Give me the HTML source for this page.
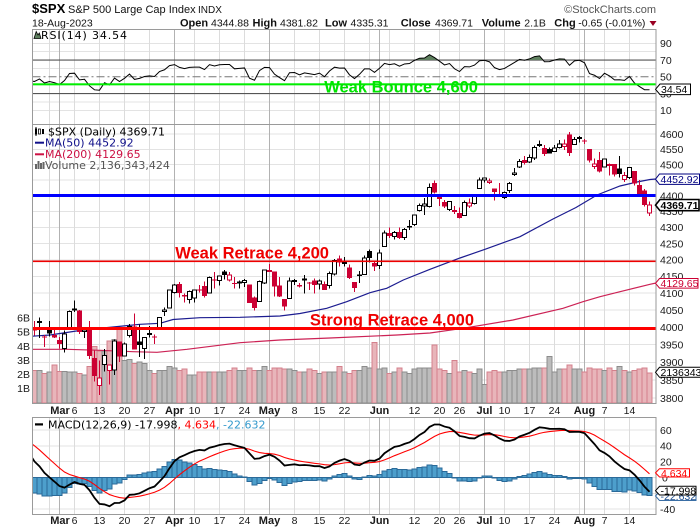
<!DOCTYPE html>
<html><head><meta charset="utf-8"><title>$SPX chart</title>
<style>
html,body{margin:0;padding:0;background:#fff;width:700px;height:530px;overflow:hidden}
svg{display:block}
.ax{font-family:"Liberation Sans",Arial,sans-serif;font-size:10.5px;fill:#1a1a1a}
.mo{font-family:"Liberation Sans",Arial,sans-serif;font-size:11px;font-weight:bold;fill:#1a1a1a}
.lg{font-family:"DejaVu Sans",sans-serif;font-size:11px}
.ann{font-family:"Liberation Sans",Arial,sans-serif;font-size:16.5px;font-weight:bold}
.hd{font-family:"Liberation Sans",Arial,sans-serif}
.tg{font-family:"Liberation Sans",Arial,sans-serif;font-size:10.5px}
</style></head><body>
<svg id="c" width="700" height="530" viewBox="0 0 700 530" xmlns="http://www.w3.org/2000/svg">
<defs>
<clipPath id="cR"><rect x="32.5" y="29.5" width="623.5" height="95"/></clipPath>
<clipPath id="cM"><rect x="32.5" y="124.5" width="623.5" height="279"/></clipPath>
<clipPath id="cD"><rect x="32.5" y="417.5" width="623.5" height="97"/></clipPath>
<clipPath id="cOB"><rect x="32.5" y="29.5" width="623.5" height="30.55"/></clipPath>
</defs>
<rect width="700" height="530" fill="#fff"/>
<g id="grid" shape-rendering="crispEdges"></g>
<g id="spec"></g>
<g id="rsi" clip-path="url(#cR)"></g>
<g id="vol" clip-path="url(#cM)" shape-rendering="crispEdges"></g>
<g id="ma" clip-path="url(#cM)" fill="none"></g>
<g id="cdl" clip-path="url(#cM)" shape-rendering="crispEdges"></g>
<g id="hist" clip-path="url(#cD)" shape-rendering="crispEdges"></g>
<g id="macd" clip-path="url(#cD)" fill="none"></g>

<!-- annotation lines -->
<rect x="32.5" y="83.3" width="623.5" height="2" fill="#00ee00"/>
<rect x="32.5" y="194" width="623.5" height="3" fill="#0000ff"/>
<rect x="32.5" y="260.5" width="623.5" height="1.6" fill="#ee0000"/>
<rect x="32.5" y="327" width="623.5" height="3" fill="#ff0000"/>

<text class="ann" x="478" y="92.7" text-anchor="end" fill="#00e400">Weak Bounce 4,600</text>
<text class="ann" x="329" y="258.3" text-anchor="end" fill="#ee0000">Weak Retrace 4,200</text>
<text class="ann" x="474" y="325.7" text-anchor="end" fill="#ee0000">Strong Retrace 4,000</text>

<!-- panel borders -->
<g fill="none" stroke="#9a9a9a" stroke-width="1" shape-rendering="crispEdges">
<rect x="32.5" y="29.5" width="623.5" height="95"/>
<rect x="32.5" y="124.5" width="623.5" height="279"/>
<rect x="32.5" y="417.5" width="623.5" height="97"/>
</g>

<!-- header -->
<text class="hd" x="32" y="13" font-size="13" font-weight="bold" fill="#000">$SPX</text>
<text class="hd" x="68" y="13" font-size="11" fill="#111">S&amp;P 500 Large Cap Index</text>
<text class="hd" x="198" y="13" font-size="10" fill="#111">INDX</text>
<text class="hd" x="656" y="13" font-size="11" fill="#555" text-anchor="end">©StockCharts.com</text>
<text class="hd" x="32" y="26.7" font-size="10.5" fill="#111">18-Aug-2023</text>
<g class="hd" fill="#111">
<text x="180" y="26.7" font-size="11" font-weight="bold">Open</text>
<text x="211" y="26.7" font-size="10.5">4344.88</text>
<text x="252.5" y="26.7" font-size="11" font-weight="bold">High</text>
<text x="280" y="26.7" font-size="10.5">4381.82</text>
<text x="325" y="26.7" font-size="11" font-weight="bold">Low</text>
<text x="350.5" y="26.7" font-size="10.5">4335.31</text>
<text x="400.7" y="26.7" font-size="11" font-weight="bold">Close</text>
<text x="435" y="26.7" font-size="10.5">4369.71</text>
<text x="481.7" y="26.7" font-size="11" font-weight="bold">Volume</text>
<text x="524.3" y="26.7" font-size="10.5">2.1B</text>
<text x="554.3" y="26.7" font-size="11" font-weight="bold">Chg</text>
<text x="578.3" y="26.7" font-size="10.5">-0.65 (-0.01%)</text>
</g>
<polygon points="649.5,21 656.5,21 653,26" fill="#990022"/>

<!-- RSI legend -->
<polygon points="34,38.5 36.2,31.5 38,35 39.3,33 41,38.5" fill="#5f805f" stroke="#000" stroke-width="0.8"/>
<text class="lg" x="41" y="39" fill="#000" textLength="86">RSI(14) 34.54</text>

<!-- main legend -->
<g>
<rect x="35" y="128.5" width="2" height="6" fill="#000"/><rect x="35.5" y="127" width="1" height="9" fill="#000"/>
<rect x="38.5" y="129" width="2" height="5" fill="#fff" stroke="#000" stroke-width="0.8"/>
<rect x="42" y="129" width="2" height="5" fill="#000"/>
</g>
<text class="lg" x="48" y="135.5" fill="#000">$SPX (Daily) 4369.71</text>
<rect x="35" y="141.7" width="9" height="2" fill="#10108a"/>
<text class="lg" x="45" y="146.5" fill="#10108a">MA(50) 4452.92</text>
<rect x="35" y="153.3" width="9" height="2" fill="#cc1144"/>
<text class="lg" x="45" y="158" fill="#cc1144">MA(200) 4129.65</text>
<g fill="#666"><rect x="35" y="164" width="2" height="5"/><rect x="37.5" y="161" width="2" height="8"/><rect x="40" y="163" width="2" height="6"/><rect x="42.5" y="162" width="2" height="7"/></g>
<text class="lg" x="45" y="169" fill="#555">Volume 2,136,343,424</text>

<!-- MACD legend -->
<rect x="35" y="423.3" width="8" height="2.2" fill="#000"/>
<text class="lg" x="48" y="428.3" fill="#000">MACD(12,26,9) -17.998<tspan fill="#ff0000">, 4.634</tspan><tspan fill="#3399cc">, -22.632</tspan></text>

<!-- RSI axis labels -->
<g class="ax">
<text x="660" y="47.1">90</text>
<text x="660" y="63.9">70</text>
<text x="660" y="80.6">50</text>
<text x="660" y="97.4">30</text>
<text x="660" y="114.1">10</text>
</g>

<!-- main axis labels -->
<g class="ax">
<text x="660" y="138">4600</text>
<text x="660" y="153">4550</text>
<text x="660" y="168.3">4500</text>
<text x="660" y="183.8">4450</text>
<text x="660" y="199.4">4400</text>
<text x="660" y="215.2">4350</text>
<text x="660" y="231.2">4300</text>
<text x="660" y="247.3">4250</text>
<text x="660" y="263.7">4200</text>
<text x="660" y="280.2">4150</text>
<text x="660" y="297">4100</text>
<text x="660" y="313.9">4050</text>
<text x="660" y="331.1">4000</text>
<text x="660" y="348.5">3950</text>
<text x="660" y="366.1">3900</text>
<text x="660" y="383.9">3850</text>
<text x="660" y="402">3800</text>
</g>
<g class="ax" text-anchor="end">
<text x="30" y="321.5">6B</text>
<text x="30" y="335.5">5B</text>
<text x="30" y="349.8">4B</text>
<text x="30" y="363.8">3B</text>
<text x="30" y="377.8">2B</text>
<text x="30" y="392.1">1B</text>
</g>

<!-- MACD axis labels -->
<g class="ax">
<text x="660" y="433.9">60</text>
<text x="660" y="449.7">40</text>
<text x="660" y="465.5">20</text>
<text x="662" y="481.3">0</text>
<text x="660" y="497.1">-20</text>
<text x="660" y="512.9">-40</text>
</g>

<!-- date labels (main) -->
<g text-anchor="middle">
<text class="mo" x="60" y="414">Mar</text><text class="ax" x="74.5" y="414">6</text>
<text class="ax" x="99.5" y="414">13</text><text class="ax" x="124.5" y="414">20</text><text class="ax" x="149.5" y="414">27</text>
<text class="mo" x="174.5" y="414">Apr</text><text class="ax" x="194.5" y="414">10</text><text class="ax" x="219.5" y="414">17</text><text class="ax" x="244.5" y="414">24</text>
<text class="mo" x="269.5" y="414">May</text><text class="ax" x="294.5" y="414">8</text><text class="ax" x="319.5" y="414">15</text><text class="ax" x="344.5" y="414">22</text>
<text class="mo" x="379.5" y="414">Jun</text><text class="ax" x="414.5" y="414">12</text><text class="ax" x="439.5" y="414">20</text><text class="ax" x="459.5" y="414">26</text>
<text class="mo" x="484.5" y="414">Jul</text><text class="ax" x="504.5" y="414">10</text><text class="ax" x="529.5" y="414">17</text><text class="ax" x="554.5" y="414">24</text>
<text class="mo" x="584.5" y="414">Aug</text><text class="ax" x="604.5" y="414">7</text><text class="ax" x="629.5" y="414">14</text>
</g>
<!-- date labels (bottom) -->
<g text-anchor="middle">
<text class="mo" x="60" y="524">Mar</text><text class="ax" x="74.5" y="524">6</text>
<text class="ax" x="99.5" y="524">13</text><text class="ax" x="124.5" y="524">20</text><text class="ax" x="149.5" y="524">27</text>
<text class="mo" x="174.5" y="524">Apr</text><text class="ax" x="194.5" y="524">10</text><text class="ax" x="219.5" y="524">17</text><text class="ax" x="244.5" y="524">24</text>
<text class="mo" x="269.5" y="524">May</text><text class="ax" x="294.5" y="524">8</text><text class="ax" x="319.5" y="524">15</text><text class="ax" x="344.5" y="524">22</text>
<text class="mo" x="379.5" y="524">Jun</text><text class="ax" x="414.5" y="524">12</text><text class="ax" x="439.5" y="524">20</text><text class="ax" x="459.5" y="524">26</text>
<text class="mo" x="484.5" y="524">Jul</text><text class="ax" x="504.5" y="524">10</text><text class="ax" x="529.5" y="524">17</text><text class="ax" x="554.5" y="524">24</text>
<text class="mo" x="584.5" y="524">Aug</text><text class="ax" x="604.5" y="524">7</text><text class="ax" x="629.5" y="524">14</text>
</g>

<!-- tags -->
<polygon points="655.5,89.3 660,84 690.5,84 690.5,94.6 660,94.6" fill="#fff" stroke="#000" stroke-width="1"/>
<text class="tg" x="661" y="93.2" fill="#000">34.54</text>

<polygon points="655.5,179.2 659.5,174 699.5,174 699.5,184.4 659.5,184.4" fill="#fff" stroke="#000080" stroke-width="1"/>
<text class="tg" x="660.5" y="183" fill="#000080">4452.92</text>
<polygon points="655.5,205.1 660,199.5 699,199.5 699,210.7 660,210.7" fill="#fff" stroke="#000" stroke-width="1.6"/>
<text class="tg" x="660.5" y="209" font-weight="bold" fill="#000">4369.71</text>
<polygon points="655.5,283.3 659.5,278.5 698,278.5 698,288.1 659.5,288.1" fill="#fff" stroke="#cc0033" stroke-width="1"/>
<text class="tg" x="660.5" y="287.1" fill="#cc0033">4129.65</text>
<polygon points="655.5,372.3 659.5,367.3 702,367.3 702,377.3 659.5,377.3" fill="#fff" stroke="#000" stroke-width="1"/>
<text class="tg" x="660.5" y="376.1" fill="#000">2136343424</text>

<polygon points="655.5,496 659.5,491.5 696,491.5 696,500.5 659.5,500.5" fill="#fff" stroke="#3a6ea5" stroke-width="1"/>
<text class="tg" x="660.5" y="499.9" fill="#1f4f8f">-22.632</text>
<polygon points="655.5,472.9 659.5,468.7 689.5,468.7 689.5,477 659.5,477" fill="#fff" stroke="#ff0000" stroke-width="1"/>
<text class="tg" x="661" y="476.8" fill="#ff0000">4.634</text>
<polygon points="655.5,490.7 659.5,486.3 696,486.3 696,495 659.5,495" fill="#fff" stroke="#000" stroke-width="1"/>
<text class="tg" x="660.5" y="494.6" fill="#000" font-size="10">-17.998</text>
</svg>
<script>
(function(){
const D=[
[3997.3,4017.8,3976.9,3991.05],[4018.6,4028.3,3969.2,4012.32],[3973.2,3978.3,3943.1,3970.04],
[3992.4,4018.1,3973.6,3982.24],[3977.2,3997.5,3968.98,3970.15],[3963.3,3971.7,3939.1,3951.39],[3938.7,3990.8,3928.2,3981.35],[3998.0,4048.3,3995.2,4045.64],
[4055.2,4078.5,4044.6,4048.42],[4048.3,4050.0,3980.3,3986.37],[3987.6,4000.4,3969.8,3992.01],[3998.7,4017.8,3908.7,3918.32],[3912.8,3934.1,3846.3,3861.59],
[3835.1,3905.1,3808.9,3855.76],[3894.0,3937.3,3873.6,3919.29],[3876.7,3894.3,3838.2,3891.93],[3878.9,3964.5,3864.1,3960.28],[3958.7,3958.9,3901.3,3916.64],
[3917.5,3956.6,3916.9,3951.57],[3975.9,4009.1,3971.2,4002.87],[4002.0,4039.5,3936.2,3936.97],[3959.2,4007.7,3914.5,3948.72],[3939.2,3972.7,3909.2,3970.99],
[3982.9,4003.8,3970.5,3977.53],[3974.1,3979.2,3951.5,3971.27],[3999.5,4030.6,3999.5,4027.81],[4046.7,4057.9,4032.6,4050.83],[4056.2,4110.8,4056.2,4109.31],
[4102.2,4127.7,4098.8,4124.51],[4128.0,4133.1,4086.9,4100.60],[4094.5,4099.7,4072.6,4090.38],[4081.2,4107.3,4069.8,4105.02],
[4085.2,4109.5,4072.6,4109.11],[4110.3,4124.3,4102.6,4108.94],[4121.7,4134.4,4086.9,4091.95],[4100.0,4150.3,4099.4,4146.22],[4140.1,4163.2,4113.2,4137.64],
[4137.2,4151.7,4123.2,4151.32],[4164.3,4169.5,4140.4,4154.87],[4139.3,4162.6,4134.5,4154.52],[4130.5,4148.6,4114.6,4129.79],[4132.1,4138.0,4113.9,4133.52],
[4132.1,4142.4,4117.8,4137.04],[4126.4,4126.4,4071.4,4071.63],[4087.8,4089.7,4049.4,4055.99],[4075.3,4138.2,4075.3,4135.35],[4129.6,4170.1,4127.2,4169.48],
[4166.8,4186.9,4164.1,4167.87],[4164.1,4164.1,4089.7,4119.58],[4122.3,4148.3,4088.9,4090.75],[4082.6,4082.6,4048.3,4061.22],[4084.7,4147.0,4084.7,4136.25],
[4136.1,4142.3,4123.8,4138.12],[4124.3,4130.4,4116.8,4119.17],[4143.7,4154.3,4098.9,4137.64],[4132.2,4132.8,4109.3,4130.62],[4138.5,4143.7,4099.1,4124.08],
[4126.6,4141.3,4110.3,4136.28],[4127.9,4135.5,4109.9,4109.90],[4122.9,4164.7,4113.6,4158.77],[4157.7,4202.2,4153.5,4198.05],[4204.2,4212.9,4180.2,4191.98],
[4190.8,4209.2,4179.7,4192.63],[4176.8,4185.7,4142.5,4145.58],[4132.9,4132.9,4103.98,4115.24],[4155.7,4165.7,4129.7,4151.28],[4156.2,4212.9,4156.2,4205.45],
[4226.7,4231.1,4192.2,4205.52],[4190.7,4195.4,4166.2,4179.83],
[4183.0,4232.4,4171.6,4221.02],[4241.0,4290.7,4241.0,4282.37],
[4282.99,4299.3,4266.8,4273.79],[4271.3,4288.3,4263.1,4283.85],[4285.5,4299.2,4263.96,4267.52],[4268.7,4298.0,4261.1,4293.93],[4304.9,4322.6,4291.7,4298.86],
[4308.3,4340.1,4304.4,4338.93],[4352.6,4375.4,4349.3,4369.01],[4366.3,4391.8,4337.9,4372.59],[4365.3,4439.2,4362.6,4425.84],[4440.4,4448.5,4407.4,4409.59],
[4396.1,4400.1,4367.2,4388.71],[4380.0,4386.2,4360.1,4365.69],[4355.4,4382.3,4351.8,4381.89],[4354.2,4366.6,4341.3,4348.33],
[4344.8,4362.1,4328.1,4328.82],[4337.4,4384.4,4335.0,4378.41],[4367.5,4390.4,4360.2,4376.86],[4374.9,4398.4,4371.97,4396.44],[4422.4,4458.5,4422.4,4450.38],
[4450.5,4456.5,4442.3,4455.59],[4442.0,4454.1,4436.6,4446.82],[4422.6,4422.6,4385.1,4411.59],[4404.5,4440.4,4397.4,4398.95],
[4394.2,4412.6,4389.9,4409.53],[4415.6,4443.6,4408.5,4439.26],[4467.7,4488.3,4463.2,4472.16],[4491.5,4517.4,4489.4,4510.04],[4514.6,4527.8,4499.6,4505.42],
[4508.9,4532.9,4504.9,4522.79],[4521.8,4562.3,4514.6,4554.98],[4563.9,4578.4,4557.5,4565.72],[4554.4,4564.7,4527.6,4534.87],[4550.2,4555.0,4535.8,4536.34],
[4543.4,4563.4,4541.3,4554.64],[4555.2,4580.6,4552.4,4567.46],[4558.96,4582.5,4547.6,4566.75],[4598.3,4607.1,4528.6,4537.41],[4565.8,4590.2,4564.0,4582.23],
[4584.8,4594.2,4573.1,4588.96],
[4578.8,4584.6,4567.5,4576.73],[4550.9,4550.9,4505.8,4513.39],[4494.3,4519.5,4485.5,4501.89],[4513.96,4540.3,4474.6,4478.03],
[4491.6,4519.8,4491.2,4518.44],[4498.0,4503.3,4464.4,4499.38],[4501.6,4502.4,4461.3,4467.71],[4487.2,4527.4,4457.9,4468.83],[4450.7,4476.2,4443.98,4464.05],
[4458.1,4490.3,4453.4,4489.72],[4478.9,4478.9,4432.2,4437.86],[4433.8,4449.95,4403.6,4404.33],[4416.3,4421.2,4364.8,4370.36],[4344.88,4381.82,4335.31,4369.71]
];
const V=[2.3,2.3,2.1,
2.2,2.7,2.25,2.25,2.2,
2.2,2.1,2.0,2.6,4.0,
3.7,3.7,4.4,4.5,5.3,
3.0,3.1,2.8,2.9,2.8,
2.3,2.1,2.3,2.3,2.6,
2.5,2.3,2.4,2.0,
2.0,2.2,2.2,2.2,2.2,
2.2,2.2,2.3,2.5,2.3,
2.3,2.5,2.3,2.3,2.6,
2.3,2.5,2.5,2.4,2.4,
2.3,2.2,2.2,2.4,2.3,
2.1,2.2,2.2,2.2,2.6,
2.2,2.1,2.3,2.3,2.6,
2.5,4.3,
2.4,2.5,
2.1,2.2,2.5,2.2,2.1,
2.4,2.5,2.5,2.5,4.1,
2.4,2.3,2.1,3.0,
2.2,2.3,2.2,2.1,2.4,
1.3,2.2,2.3,2.2,
2.2,2.3,2.3,2.4,2.4,
2.4,2.5,2.5,2.5,3.3,
2.2,2.4,2.4,2.7,2.4,
2.4,
2.2,2.5,2.4,2.4,
2.3,2.5,2.3,2.6,2.3,
2.2,2.3,2.4,2.5,2.14];
const PC0=3997.34;
const NS="http://www.w3.org/2000/svg";
function mk(p,t,a){const e=document.createElementNS(NS,t);for(const k in a)e.setAttribute(k,a[k]);p.appendChild(e);return e;}
const X=i=>49.5+5*i;
const Y=p=>327.3-1382*Math.log(p/4000);
const YR=r=>76.8-(r-50)*0.8375;
const YM=m=>477.5-m*0.79;
const YV=v=>403-v*14.1;
const L=32.5,R=656;
const $=id=>document.getElementById(id);

/* grid */
const g=$('grid');
function hl(y,c){mk(g,'line',{x1:L,x2:R,y1:y,y2:y,stroke:c,'stroke-width':1});}
for(let r=10;r<=90;r+=10){if(r!==70&&r!==30&&r!==50)hl(YR(r),'#e3e3e3');}
for(let p=3800;p<=4600;p+=50)hl(Y(p),'#e3e3e3');
for(let m=-40;m<=60;m+=20)hl(YM(m),'#e3e3e3');
const panels=[[29.5,124.5],[124.5,403.5],[417.5,514.5]];
const weeks=[0,5,10,15,20,25,29,34,39,44,49,54,59,64,68,73,78,82,87,91,96,101,106,111,116];
const months=[2,25,44,66,87,107];
weeks.forEach(i=>panels.forEach(p=>mk(g,'line',{x1:X(i),x2:X(i),y1:p[0],y2:p[1],stroke:'#dcdcdc','stroke-width':1})));
months.forEach(i=>panels.forEach(p=>mk(g,'line',{x1:X(i),x2:X(i),y1:p[0],y2:p[1],stroke:'#b2b2b2','stroke-width':1})));
const sp=$('spec');
mk(sp,'line',{x1:L,x2:R,y1:YR(70),y2:YR(70),stroke:'#555','stroke-width':1.2});
mk(sp,'line',{x1:L,x2:R,y1:YR(30),y2:YR(30),stroke:'#555','stroke-width':1.2});
mk(sp,'line',{x1:L,x2:R,y1:YR(50),y2:YR(50),stroke:'#777','stroke-width':1,'stroke-dasharray':'8,3,2,3'});

/* indicators */
let ag=14,al=17,e12=4085,e26=4055,sig=45;
const rp=[[X(-4),YR(100-100/(1+ag/al))]],mp=[[X(-4),YM(e12-e26)]],sgp=[[X(-4),YM(sig)]],H=[];
D.forEach((d,k)=>{
  const c=d[3],pc=k?D[k-1][3]:PC0,ch=c-pc;
  ag=(ag*13+Math.max(ch,0))/14; al=(al*13+Math.max(-ch,0))/14;
  const r=100-100/(1+ag/al);
  e12+=(c-e12)*2/13; e26+=(c-e26)*2/27;
  const m=e12-e26; sig+=(m-sig)*0.2;
  const i=k-3;
  rp.push([X(i),YR(r)]); mp.push([X(i),YM(m)]); sgp.push([X(i),YM(sig)]); H.push(m-sig);
});
const pts=a=>a.map(p=>p[0].toFixed(2)+','+p[1].toFixed(2)).join(' ');
const rg=$('rsi');
const y70=YR(70);
mk(rg,'path',{d:'M'+rp[0][0]+','+y70+' L'+pts(rp)+' L'+rp[rp.length-1][0]+','+y70+' Z',fill:'#5f805f','clip-path':'url(#cOB)'});
mk(rg,'polyline',{points:pts(rp),fill:'none',stroke:'#000','stroke-width':1});

/* volume */
const vg=$('vol');
D.forEach((d,k)=>{const i=k-3,pc=k?D[k-1][3]:PC0,dn=d[3]<pc,v=V[k];
  mk(vg,'rect',{x:X(i)-2.5,y:YV(v),width:5,height:v*14.1,fill:dn?'#e8b5ba':'#bcbcbc',stroke:dn?'#d4808c':'#8c8c8c','stroke-width':1});});

/* moving averages */
const ma50=[[28,336.5],[50,335],[83,330],[123,326],[140,324.3],[160,323.3],[173,319.5],[200,317.7],[240,317.3],[280,316],[300,313.5],[326.7,308.3],[346.7,301.7],[370,292.7],[386.7,288.3],[403.3,280],[430,269.3],[460,258],[485,249.3],[520,236.7],[553,219],[576,207.5],[597,195],[620,186],[637,182],[650,179.5],[656,179]];
const ma200=[[28,349.3],[67,349.3],[100,350.3],[133,351.7],[157,352.3],[187,349.3],[240,342.7],[280,340],[330,338],[397,335],[430,333],[463,328.3],[513,320],[563,308.3],[583,301.7],[600,296.7],[620,291.7],[650,284.3],[656,283]];
const mg=$('ma');
mk(mg,'polyline',{points:pts(ma200),stroke:'#cc2255','stroke-width':1.2});
mk(mg,'polyline',{points:pts(ma50),stroke:'#1c1c90','stroke-width':1.2});

/* candles */
const cg=$('cdl');
D.forEach((d,k)=>{const i=k-3,[o,h,l,c]=d,pc=k?D[k-1][3]:PC0,col=c<pc?'#cc0033':'#000',x=X(i);
  mk(cg,'rect',{x:x-0.5,y:Y(h),width:1,height:Math.max(1,Y(l)-Y(h)),fill:col});
  let yt=Y(Math.max(o,c)),yb=Y(Math.min(o,c)); if(yb-yt<1)yb=yt+1;
  if(c>=o) mk(cg,'rect',{x:x-2,y:yt,width:4,height:yb-yt,fill:'#fff',stroke:col,'stroke-width':1});
  else mk(cg,'rect',{x:x-2.5,y:yt,width:5,height:yb-yt,fill:col});
});

/* MACD */
const hg=$('hist'),z=YM(0);
H.forEach((h,k)=>{const i=k-3,y=YM(h);mk(hg,'rect',{x:X(i)-2.5,y:Math.min(y,z),width:5,height:Math.max(0.5,Math.abs(y-z)),fill:'#4d9fcc',stroke:'#2b6a99','stroke-width':1});});
const dg=$('macd');
mk(dg,'polyline',{points:pts(sgp),stroke:'#ff0000','stroke-width':1.1});
mk(dg,'polyline',{points:pts(mp),stroke:'#000','stroke-width':1.8});
})();
</script>
</body></html>
